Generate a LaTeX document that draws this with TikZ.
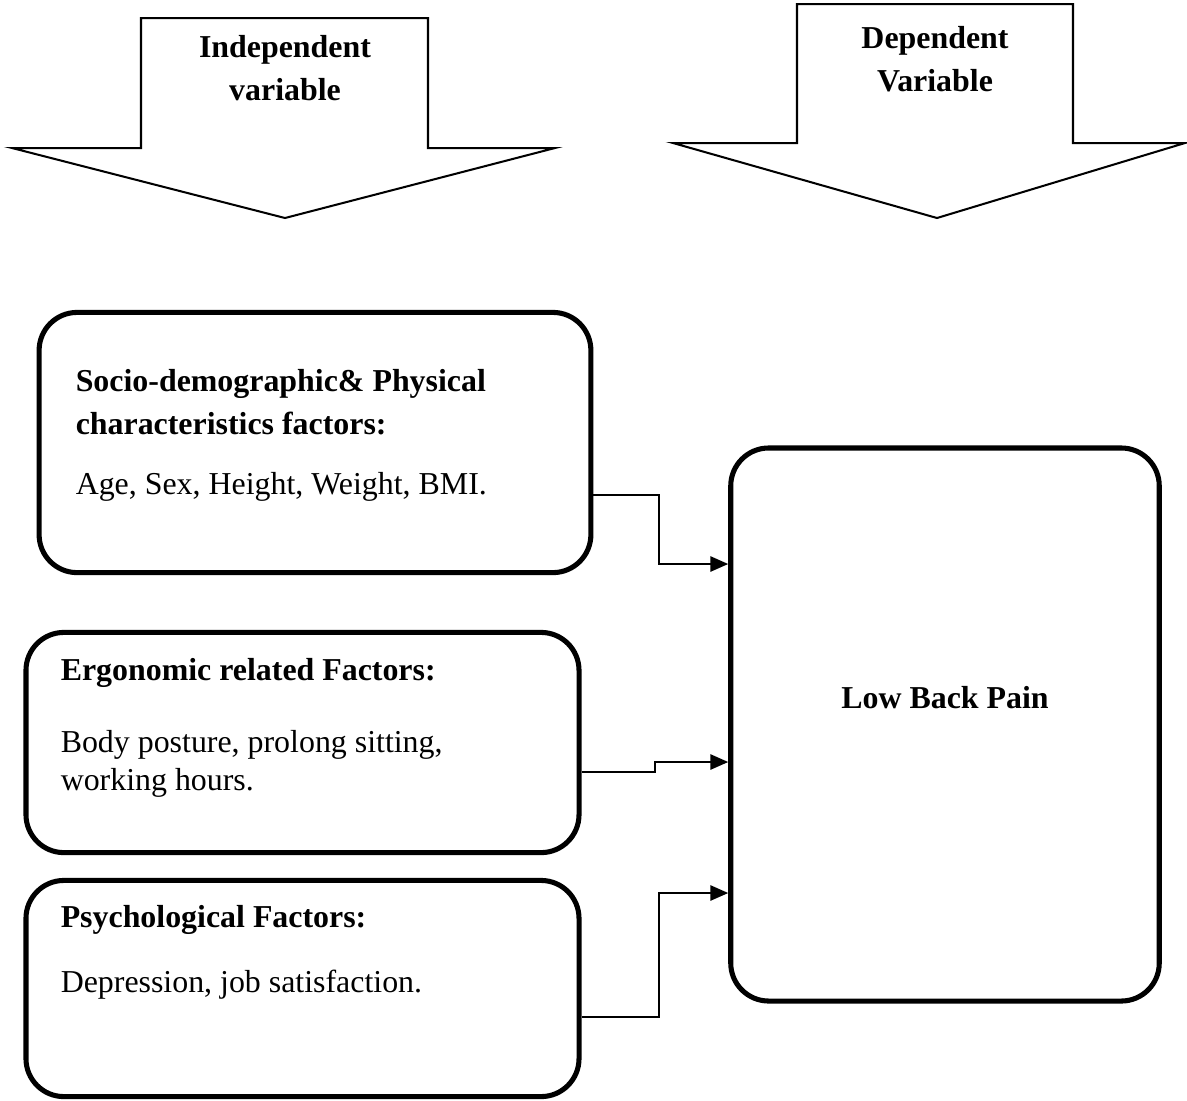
\documentclass[tikz,border=0pt]{standalone}
\usepackage{fontspec}
\setmainfont{Liberation Serif}
\usetikzlibrary{arrows.meta}

\begin{document}
\begin{tikzpicture}[x=0.01389cm,y=-0.01389cm,line width=.6pt,
  font=\fontsize{12.6}{17}\selectfont,
  factor/.style={draw,line width=2pt,rounded corners=15pt,inner sep=0pt},
  txt/.style={anchor=west,inner sep=0pt,align=left},
  bold/.style={font=\bfseries\fontsize{12.6}{17}\selectfont},
  head/.style={inner sep=0pt,align=center,bold},
  bigarrow/.style={draw,line width=.8pt,line join=miter},
  link/.style={draw,line width=.7pt,-{Triangle[length=7pt,width=6pt]}}]
\useasboundingbox (0,0) rectangle (1187,1100);
% the two block arrows
\draw[bigarrow] (141,148)--(141,18)--(428,18)--(428,148)--(555,148)--(285,218)--(12,148)--cycle;
\draw[bigarrow] (797,143)--(797,4)--(1073,4)--(1073,143)--(1185,143)--(937,218)--(673,143)--cycle;
\node[head] (indep) at (285,68) {Independent\\variable};
\node[head] (dep) at (935,59) {Dependent\\Variable};
% factor boxes
\node[factor,minimum width=218pt,minimum height=102.8pt] (socio) at (315,442.5) {};
\node[factor,minimum width=218.5pt,minimum height=87pt] (ergo) at (302.5,742.5) {};
\node[factor,minimum width=218.5pt,minimum height=85.4pt] (psych) at (302.5,988.5) {};
\node[factor,minimum width=169.3pt,minimum height=218.5pt] (lbp) at (945,724.5) {};
\node[txt,bold] (sociohead) at (75,402) {Socio-demographic\& Physical\\characteristics factors:};
\node[txt] (sociolist) at (75,487) {Age, Sex, Height, Weight, BMI.};
\node[txt,bold] (ergohead) at (60,673) {Ergonomic related Factors:};
\node[txt,font=\fontsize{12.6}{15}\selectfont] (ergolist) at (60,764) {Body posture, prolong sitting,\\working hours.};
\node[txt,bold] (psychhead) at (60,920) {Psychological Factors:};
\node[txt] (psychlist) at (60,985) {Depression, job satisfaction.};
\node[head] (lbptext) at (945,698) {Low Back Pain};
% connectors
\coordinate (j1a) at (659,495);
\coordinate (j1b) at (659,564);
\coordinate (j2a) at (655,772);
\coordinate (j2b) at (655,762);
\coordinate (j3a) at (659,1017);
\coordinate (j3b) at (659,893);
\draw[link] (socio.east |- j1a)--(j1a)--(j1b)--(lbp.west |- j1b);
\draw[link] (ergo.east |- j2a)--(j2a)--(j2b)--(lbp.west |- j2b);
\draw[link] (psych.east |- j3a)--(j3a)--(j3b)--(lbp.west |- j3b);
\end{tikzpicture}
\end{document}
